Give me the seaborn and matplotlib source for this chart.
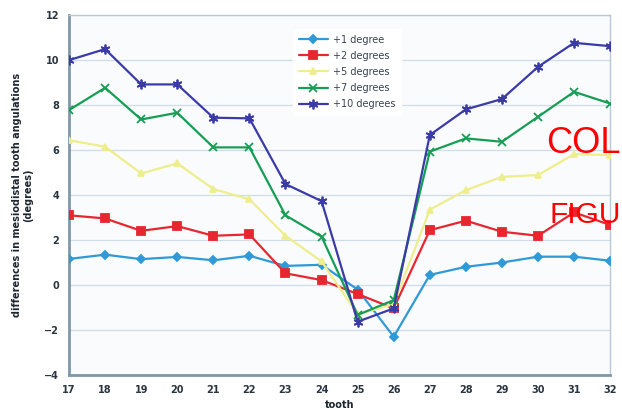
import numpy as np
import pandas as pd
import matplotlib
matplotlib.use("Agg")
import matplotlib.pyplot as plt
import seaborn as sns

teeth = list(range(17, 33))
series_names = ["+1 degree", "+2 degrees", "+5 degrees", "+7 degrees", "+10 degrees"]

deg1 = [1.16, 1.35, 1.15, 1.25, 1.10, 1.30, 0.85, 0.90, -0.20, -2.30, 0.45, 0.81, 1.00, 1.26, 1.26, 1.08]
deg2 = [3.10, 2.96, 2.41, 2.62, 2.19, 2.25, 0.52, 0.22, -0.40, -1.04, 2.44, 2.86, 2.37, 2.19, 3.23, 2.67]
deg5 = [6.44, 6.15, 4.96, 5.41, 4.27, 3.81, 2.19, 1.05, -1.30, -0.85, 3.35, 4.22, 4.81, 4.89, 5.82, 5.78]
deg7 = [7.78, 8.77, 7.36, 7.66, 6.12, 6.12, 3.10, 2.15, -1.33, -0.67, 5.93, 6.52, 6.37, 7.48, 8.59, 8.07]
deg10 = [10.00, 10.49, 8.92, 8.92, 7.44, 7.41, 4.49, 3.73, -1.63, -1.04, 6.67, 7.81, 8.27, 9.70, 10.77, 10.62]

y_ticks = [-4, -2, 0, 2, 4, 6, 8, 10, 12]

colors = ["#2f9ad8", "#e8262f", "#eeee8c", "#169e55", "#3b3ba8"]
markers = ["D", "s", "^", "x", (6, 2, 0)]
marker_sizes = [4, 6, 5, 6, 7]

df = pd.DataFrame({
    "tooth": teeth * 5,
    "value": deg1 + deg2 + deg5 + deg7 + deg10,
    "series": np.repeat(series_names, len(teeth)),
})

sns.set_style("white")
plt.rcParams["font.family"] = ["DejaVu Sans"]

fig = plt.figure(figsize=(6.22, 4.16), dpi=100)
fig.patch.set_facecolor("white")
ax = fig.add_axes([0.111, 0.0986, 0.870, 0.865])
ax.set_facecolor("#fafbfd")

for name, c, m, ms in zip(series_names, colors, markers, marker_sizes):
    sub = df[df["series"] == name]
    sns.lineplot(data=sub, x="tooth", y="value", ax=ax, color=c, marker=m,
                 markersize=ms, linewidth=1.6, markeredgecolor=c,
                 markeredgewidth=1.3, label=name, zorder=3)

ax.set_xlim(17, 32)
ax.set_ylim(-4, 12)
ax.set_xticks(teeth)
ax.set_yticks(y_ticks)
ax.yaxis.grid(True, color="#cfdde8", linewidth=0.9)
ax.xaxis.grid(False)
ax.set_axisbelow(True)

for side in ["top", "right"]:
    ax.spines[side].set_color("#b9c8d4")
    ax.spines[side].set_linewidth(1.0)
for side in ["left", "bottom"]:
    ax.spines[side].set_color("#7f98a8")
    ax.spines[side].set_linewidth(2.0)

ax.tick_params(axis="both", length=0, labelsize=7, labelcolor="#2b3540", pad=7)
for lbl in ax.get_xticklabels() + ax.get_yticklabels():
    lbl.set_fontweight("bold")

ax.set_xlabel("tooth", fontsize=7, fontweight="bold", color="#1e2630", labelpad=4)
ax.set_ylabel("differences in mesiodistal tooth angulations\n(degrees)",
              fontsize=7, fontweight="bold", color="#1e2630", labelpad=8)

leg = ax.legend(loc="upper left", bbox_to_anchor=(0.405, 0.975), frameon=True,
                fontsize=7, handlelength=3.0, labelspacing=0.62,
                borderpad=0.6, handletextpad=0.5)
leg.get_frame().set_facecolor("white")
leg.get_frame().set_edgecolor("white")
leg.get_frame().set_alpha(1.0)
for t in leg.get_texts():
    t.set_color("#3a4350")

fig.text(546 / 622, 1 - 153 / 416, "COL", color="red", fontsize=26,
         family=["Liberation Sans", "DejaVu Sans"], ha="left", va="baseline")
fig.text(549 / 622, 1 - 223 / 416, "FIGU", color="red", fontsize=21.5,
         family=["Liberation Sans", "DejaVu Sans"], ha="left", va="baseline")

fig.savefig("out.png", dpi=100, facecolor="white")
